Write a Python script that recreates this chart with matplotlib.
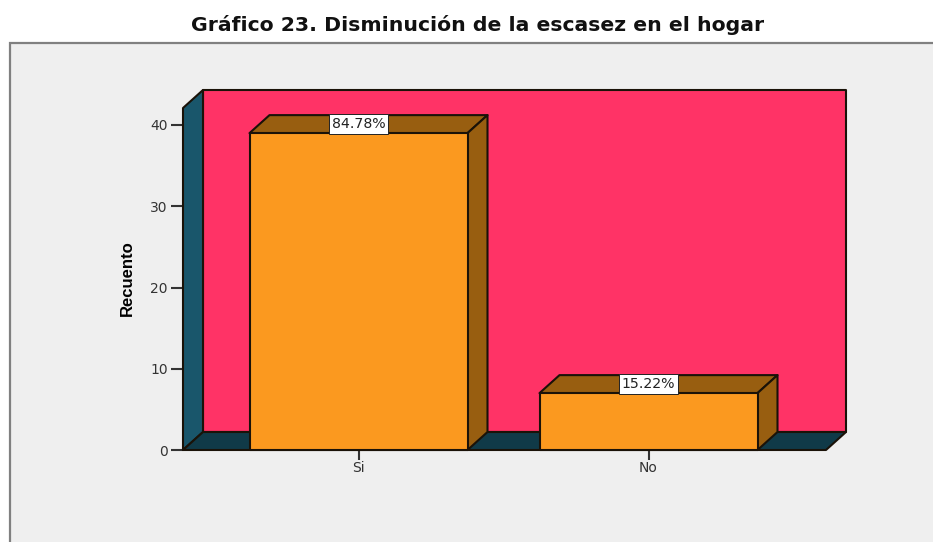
import matplotlib
matplotlib.use("Agg")
import matplotlib.pyplot as plt
from matplotlib.patches import Polygon, Rectangle

categories = ["Si", "No"]
counts = [39, 7]
percent_labels = ["84.78%", "15.22%"]
y_ticks = [0, 10, 20, 30, 40]
title = "Gráfico 23. Disminución de la escasez en el hogar"
y_label = "Recuento"

W, H = 933, 542
fig = plt.figure(figsize=(W / 100, H / 100), dpi=100, facecolor="white")
plt.rcParams["font.family"] = ["DejaVu Sans"]

# outer chart panel
fig.add_artist(Rectangle((10 / W, -0.02), 1.0, (542 - 43) / H + 0.02,
                         transform=fig.transFigure, facecolor="#EFEFEF",
                         edgecolor="#808080", linewidth=1.6, zorder=-5))

ax = fig.add_axes([183 / W, (H - 450) / H, (826 - 183) / W, (450 - 108) / H], zorder=2)
ax.patch.set_visible(False)
ymax = 342 / 8.125
xl = (183 - 358.5) / 290
xr = (826 - 358.5) / 290
ax.set_xlim(xl, xr)
ax.set_ylim(0, ymax)
for s in ax.spines.values():
    s.set_visible(False)

dx, dy = 20 / 290, 18 / 8.125
edge = "#1A1208"
lw = 1.5


def poly(pts, fc, z):
    ax.add_patch(Polygon(pts, closed=True, facecolor=fc, edgecolor=edge,
                         linewidth=lw, clip_on=False, zorder=z, joinstyle="round"))


poly([(xl + dx, dy), (xr + dx, dy), (xr + dx, ymax + dy), (xl + dx, ymax + dy)], "#FF3366", 1)
poly([(xl, 0), (xl + dx, dy), (xl + dx, ymax + dy), (xl, ymax)], "#19566B", 2)
poly([(xl, 0), (xr, 0), (xr + dx, dy), (xl + dx, dy)], "#103A48", 2)

bw = 218 / 290
for i, (v, lab) in enumerate(zip(counts, percent_labels)):
    a, b = i - bw / 2, i + bw / 2
    poly([(a, v), (b, v), (b + dx, v + dy), (a + dx, v + dy)], "#985E10", 3)
    poly([(b, 0), (b + dx, dy), (b + dx, v + dy), (b, v)], "#985E10", 3)
    poly([(a, 0), (b, 0), (b, v), (a, v)], "#FB991F", 4)
    ax.text(i, v + dy / 2 - 0.02, lab, ha="center", va="center", fontsize=10.2,
            color="#222222", zorder=6, clip_on=False,
            bbox=dict(boxstyle="square,pad=0.2", facecolor="white",
                      edgecolor="#222222", linewidth=0.7))

ax.set_xticks(range(len(categories)), categories)
ax.set_yticks(y_ticks)
ax.tick_params(axis="y", length=9, width=1.5, color="#333333", labelsize=10,
               labelcolor="#333333", pad=2)
ax.tick_params(axis="x", length=7, width=1.5, color="#333333", labelsize=10,
               labelcolor="#333333", pad=1)

fig.text(127 / W, 1 - 278 / H, y_label, rotation=90, ha="center", va="center",
         fontsize=12, fontweight="bold", color="black", family="Liberation Sans")
fig.text(478 / W, 1 - 25 / H, title, ha="center", va="center", fontsize=14.7,
         fontweight="bold", color="#111111")

fig.savefig("out.png", dpi=100)
